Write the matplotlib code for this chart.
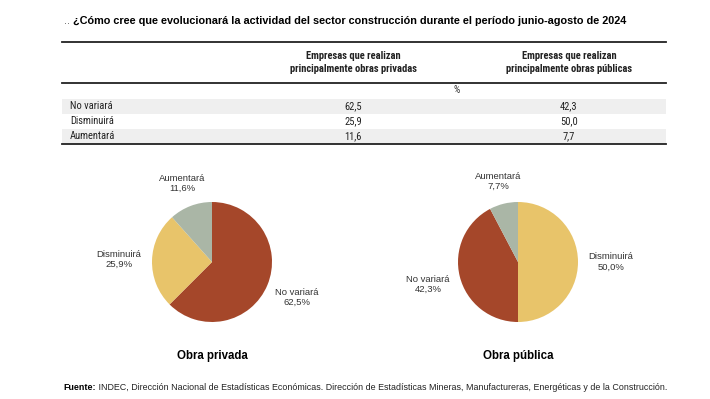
import matplotlib
matplotlib.use("Agg")
import matplotlib.pyplot as plt
from matplotlib import font_manager
from matplotlib.font_manager import FontProperties
import numpy as np

# ---- data ----
categories = ["No variará", "Disminuirá", "Aumentará"]
privada = [62.5, 25.9, 11.6]
publica = [42.3, 50.0, 7.7]
col_headers = ["Empresas que realizan\nprincipalmente obras privadas",
               "Empresas que realizan\nprincipalmente obras públicas"]
unit_label = "%"
title = "¿Cómo cree que evolucionará la actividad del sector construcción durante el período junio-agosto de 2024"
pie_titles = ["Obra privada", "Obra pública"]
pie_orders = [["No variará", "Disminuirá", "Aumentará"],
              ["Disminuirá", "No variará", "Aumentará"]]
colors = {"No variará": "#A5472A", "Disminuirá": "#E8C46A", "Aumentará": "#AAB6A6"}
source_bold = "Fuente:"
source_text = " INDEC, Dirección Nacional de Estadísticas Económicas. Dirección de Estadísticas Mineras, Manufactureras, Energéticas y de la Construcción."


def find_condensed(bold):
    cands = []
    for f in font_manager.fontManager.ttflist:
        n = f.name.lower()
        fn = f.fname.lower()
        isbold = (f.weight in ("bold", 700) or (isinstance(f.weight, int) and f.weight >= 600))
        if isbold != bold or f.style != "normal":
            continue
        cond = ("narrow" in n or "condensed" in n or "narrow" in fn or "condensed" in fn
                or str(f.stretch) in ("condensed", "semi-condensed", "extra-condensed"))
        if not cond:
            continue
        pri = 0 if "liberation" in n else (1 if "roboto" in n else (2 if "dejavu" in n else 3))
        cands.append((pri, f.fname))
    if cands:
        cands.sort()
        return FontProperties(fname=cands[0][1])
    return FontProperties(family="Liberation Sans", weight="bold" if bold else "normal")


NARROW_R = find_condensed(False)
NARROW_B = find_condensed(True)
SANS = "Liberation Sans"


def fmt(v):
    return f"{v:.1f}".replace(".", ",")


W, H = 710, 399
fig = plt.figure(figsize=(W / 100, H / 100), dpi=100)
fig.patch.set_facecolor("white")

ov = fig.add_axes([0, 0, 1, 1])
ov.set_xlim(0, W)
ov.set_ylim(H, 0)
ov.axis("off")

# title
ov.text(64, 21, "..", fontsize=7.8, family=SANS, color="#555555", va="center", ha="left")
ov.text(73, 21, title, fontsize=7.8, family=SANS, fontweight="bold", va="center", ha="left")

# table
x0, x1 = 62, 666
col_x = [353, 569]
for yl in (42, 83, 144):
    ov.plot([x0, x1], [yl, yl], color="#222222", lw=1.3)


def cp(fp, size):
    p = fp.copy()
    p.set_size(size)
    return p


for cx, h in zip(col_x, col_headers):
    ov.text(cx, 62.5, h, fontproperties=cp(NARROW_B, 7.6), ha="center",
            va="center", linespacing=1.35, color="#222222")
ov.text(457, 90, unit_label, fontproperties=cp(NARROW_R, 7.2), ha="center", va="center", color="#333333")
row_y = [106, 121, 136]
for i, (cat, yv) in enumerate(zip(categories, row_y)):
    if i % 2 == 0:
        ov.fill_between([x0, x1], yv - 7.5, yv + 7.5, color="#EFEFEF", lw=0, zorder=0)
    ov.text(70, yv, cat, fontproperties=cp(NARROW_R, 7.6), ha="left", va="center", color="#222222")
    ov.text(col_x[0], yv, fmt(privada[i]), fontproperties=cp(NARROW_R, 7.6), ha="center", va="center", color="#222222")
    ov.text(col_x[1], yv, fmt(publica[i]), fontproperties=cp(NARROW_R, 7.6), ha="center", va="center", color="#222222")

# pies
R = 60
centers = [(212, 262), (518, 262)]
series = [privada, publica]
for (cx, cy), vals, order, ptitle in zip(centers, series, pie_orders, pie_titles):
    lookup = dict(zip(categories, vals))
    v = [lookup[c] for c in order]
    ax = fig.add_axes([(cx - R) / W, (H - cy - R) / H, 2 * R / W, 2 * R / H])
    wedges, texts = ax.pie(v, colors=[colors[c] for c in order], startangle=90,
                           counterclock=False, radius=1,
                           labels=[f"{c}\n{fmt(val)}%" for c, val in zip(order, v)],
                           labeldistance=1.5,
                           textprops=dict(fontsize=6.8, family=SANS, color="#333333"),
                           wedgeprops=dict(linewidth=0))
    for w, t in zip(wedges, texts):
        ang = np.deg2rad((w.theta1 + w.theta2) / 2)
        d = 1.33 + 0.22 * abs(np.cos(ang))
        t.set_position((d * np.cos(ang), d * np.sin(ang)))
        t.set_ha("center")
        t.set_va("center")
        t.set_multialignment("center")
        t.set_linespacing(1.15)
    ax.set_xlim(-1, 1)
    ax.set_ylim(-1, 1)
    ax.set_aspect("equal")
    ov.text(cx, 356, ptitle, fontsize=8.3, family=SANS, fontweight="bold", ha="center", va="center")

# source
t1 = ov.text(63, 387, source_bold, fontsize=6.4, family=SANS, fontweight="bold", ha="left", va="center")
ov.annotate(source_text, xy=(1, 0.5), xycoords=t1, fontsize=6.4, family=SANS,
            ha="left", va="center", color="#222222")

fig.savefig("out.png", dpi=100, facecolor="white")
